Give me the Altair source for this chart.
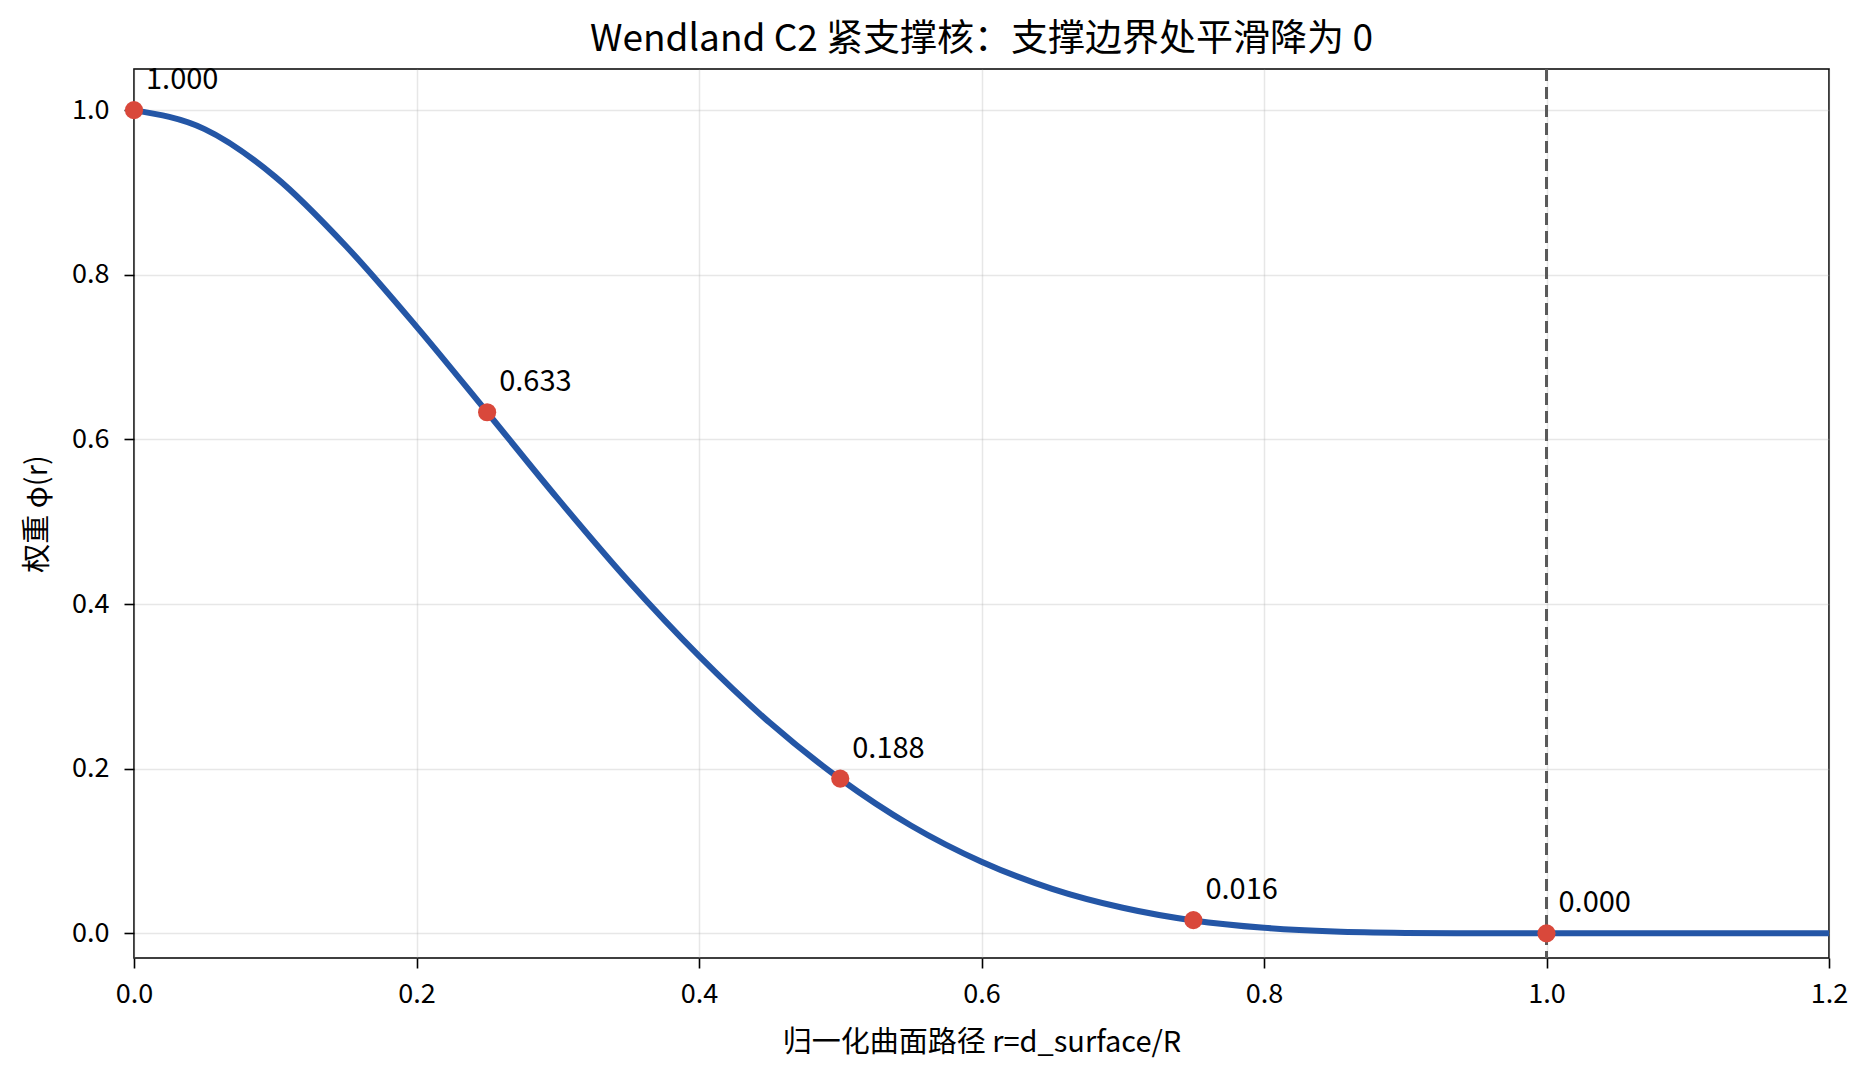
import altair as alt
import pandas as pd

# Curve values
r_vals = [0.0, 0.05, 0.10, 0.15, 0.20, 0.25, 0.30, 0.35, 0.40, 0.45, 0.50,
          0.55, 0.60, 0.65, 0.70, 0.75, 0.80, 0.85, 0.90, 0.95, 1.00, 1.20]
phi_vals = [1.000, 0.977, 0.919, 0.835, 0.737, 0.633, 0.528, 0.428, 0.337, 0.256, 0.1875,
            0.131, 0.087, 0.054, 0.031, 0.0156, 0.0067, 0.0022, 0.0005, 0.0000, 0.000, 0.000]

# Marked sample points
pt_r = [0.0, 0.25, 0.5, 0.75, 1.0]
pt_phi = [1.000, 0.633, 0.188, 0.016, 0.000]
pt_label = ["1.000", "0.633", "0.188", "0.016", "0.000"]

support_r = [1.0]

FONT = "Noto Sans CJK SC"

curve_df = pd.DataFrame({"r": r_vals, "phi": phi_vals})
pts_df = pd.DataFrame({"r": pt_r, "phi": pt_phi, "label": pt_label})
vline_df = pd.DataFrame({"r": support_r})

x_scale = alt.Scale(domain=[0, 1.2], nice=False, zero=False)
y_scale = alt.Scale(domain=[-0.03, 1.05], nice=False, zero=False)

x_axis = alt.Axis(title="归一化曲面路径 r=d_surface/R", values=[0, 0.2, 0.4, 0.6, 0.8, 1.0, 1.2],
                  format=".1f", grid=True, titlePadding=21, labelPadding=13, labelFlush=False)
y_axis = alt.Axis(title="权重 φ(r)", values=[0, 0.2, 0.4, 0.6, 0.8, 1.0], format=".1f", grid=True,
                  titlePadding=19, labelPadding=15, labelFlush=False)

curve = alt.Chart(curve_df).mark_line(
    color="#2456a6", strokeWidth=6, interpolate="monotone"
).encode(
    x=alt.X("r:Q", scale=x_scale, axis=x_axis),
    y=alt.Y("phi:Q", scale=y_scale, axis=y_axis),
)

vline = alt.Chart(vline_df).mark_rule(
    color="#5a5a5a", strokeWidth=3, strokeDash=[12, 6]
).encode(x=alt.X("r:Q", scale=x_scale))

points = alt.Chart(pts_df).mark_circle(
    color="#d9483b", size=330, opacity=1
).encode(
    x=alt.X("r:Q", scale=x_scale),
    y=alt.Y("phi:Q", scale=y_scale),
)

labels = alt.Chart(pts_df).mark_text(
    align="left", baseline="alphabetic", dx=12, dy=-21, fontSize=29, font=FONT, color="black"
).encode(
    x=alt.X("r:Q", scale=x_scale),
    y=alt.Y("phi:Q", scale=y_scale),
    text="label:N",
)

chart = alt.layer(vline, curve, points, labels).properties(
    width=1695,
    height=889,
    background="white",
    title=alt.TitleParams("Wendland C2 紧支撑核：支撑边界处平滑降为 0", fontSize=37,
                          font=FONT, fontWeight="normal", color="black", anchor="middle", offset=7),
    autosize=alt.AutoSizeParams(type="none"),
    padding={"left": 134, "top": 69, "right": 44, "bottom": 123},
).configure_view(
    stroke="black", strokeWidth=1.6
).configure_axis(
    domain=False,
    labelFont=FONT, titleFont=FONT,
    labelFontSize=27, titleFontSize=29,
    labelColor="black", titleColor="black", titleFontWeight="normal",
    tickColor="black", tickSize=10, tickWidth=1.6,
    gridColor="#b0b0b0", gridOpacity=0.3, gridWidth=1.5,
)

chart.save("out.html", embed_options={"renderer": "svg", "actions": False})
